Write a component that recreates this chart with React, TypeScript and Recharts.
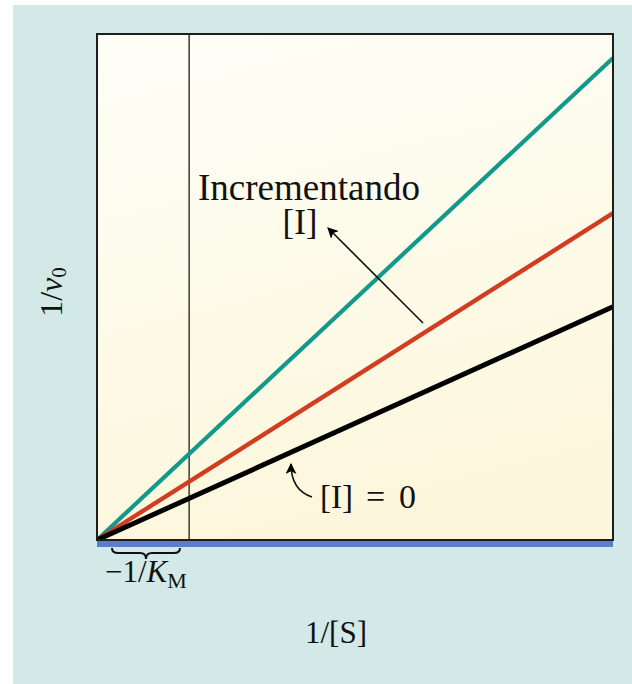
import React from "react";
import { LineChart, Line, XAxis, YAxis, CartesianGrid, ReferenceLine } from "recharts";

// Lineweaver–Burk plot: 1/v0 against 1/[S] for increasing inhibitor concentration
const invSubstrate = [-1, 4.6];
const noInhibitor = [0, 5.53];
const lowInhibitor = [0, 7.75];
const highInhibitor = [0, 11.43];

const rows = invSubstrate.map((x, i) => ({
  x,
  none: noInhibitor[i],
  low: lowInhibitor[i],
  high: highInhibitor[i],
}));

const W = 632;
const H = 684;
const margin = { top: 34, right: 19, left: 97, bottom: 144 };
const plotLeft = margin.left;
const plotTop = margin.top;
const plotRight = W - margin.right;
const plotBottom = H - margin.bottom;

const serif = "'Liberation Serif', 'Times New Roman', serif";

export default function App() {
  return (
    <div style={{ position: "absolute", left: 0, top: 0, width: W, height: H, background: "#ffffff", overflow: "hidden" }}>
      <div style={{ position: "absolute", left: 13, top: 5, right: 0, bottom: 0, background: "#d3e9e7" }} />
      <div style={{ position: "absolute", left: 0, top: 0 }}>
        <LineChart width={W} height={H} data={rows} margin={margin}>
          <defs>
            <linearGradient id="plotFill" x1="0" y1="0" x2="0.25" y2="1">
              <stop offset="0%" stopColor="#fefef8" />
              <stop offset="100%" stopColor="#fcf7dc" />
            </linearGradient>
          </defs>
          <CartesianGrid horizontal={false} vertical={false} fill="url(#plotFill)" />
          <XAxis type="number" dataKey="x" domain={[-1, 4.6]} hide />
          <YAxis type="number" domain={[0, 12]} hide />
          <ReferenceLine x={0} stroke="#3a3a30" strokeWidth={1.5} />
          <Line type="linear" dataKey="high" stroke="#12998a" strokeWidth={4.2} dot={false} isAnimationActive={false} />
          <Line type="linear" dataKey="low" stroke="#d23d22" strokeWidth={4.4} dot={false} isAnimationActive={false} />
          <Line type="linear" dataKey="none" stroke="#000000" strokeWidth={5} dot={false} isAnimationActive={false} />
        </LineChart>
      </div>
      <svg
        width={W}
        height={H}
        style={{ position: "absolute", left: 0, top: 0, pointerEvents: "none" }}
        fontFamily={serif}
      >
        <defs>
          <marker id="head" viewBox="0 0 10 10" refX="9" refY="5" markerWidth="11" markerHeight="11" markerUnits="userSpaceOnUse" orient="auto">
            <path d="M0,0 L10,5 L0,10 L2.5,5 Z" fill="#000" />
          </marker>
        </defs>
        {/* frame */}
        <rect
          x={plotLeft}
          y={plotTop}
          width={plotRight - plotLeft}
          height={plotBottom - plotTop}
          fill="none"
          stroke="#1e1e1e"
          strokeWidth={2}
        />
        {/* blue baseline under the x axis */}
        <rect x={plotLeft} y={541} width={plotRight - plotLeft} height={6} fill="#5b7ec6" />

        {/* brace marking -1/KM */}
        <path
          d="M112,548 Q112,553 118,553 L140,553 Q146,553 146,559 Q146,553 152,553 L174,553 Q180,553 180,548"
          fill="none"
          stroke="#111"
          strokeWidth={2}
        />
        <text x={105} y={582} fontSize={31} fill="#111">
          −1/<tspan fontStyle="italic">K</tspan>
          <tspan fontSize={22} dy={6}>M</tspan>
        </text>

        {/* axis titles */}
        <text x={336} y={643} fontSize={31} textAnchor="middle" fill="#111">
          1/[S]
        </text>
        <text transform="translate(62,292) rotate(-90)" fontSize={32} textAnchor="middle" fill="#111">
          1/<tspan fontStyle="italic">v</tspan>
          <tspan fontSize={21} dy={4}>0</tspan>
        </text>

        {/* inhibitor annotations */}
        <text x={309} y={200} fontSize={37} textAnchor="middle" fill="#111">
          Incrementando
        </text>
        <text x={300} y={234} fontSize={35} textAnchor="middle" fill="#111">
          [I]
        </text>
        <line x1={423} y1={323} x2={328} y2={228} stroke="#111" strokeWidth={1.6} markerEnd="url(#head)" />

        <text x={320} y={508} fontSize={33} fill="#111">
          [I]
        </text>
        <text x={366} y={508} fontSize={34} fill="#111">
          =
        </text>
        <text x={399} y={508} fontSize={34} fill="#111">
          0
        </text>
        <path d="M312,497 Q291,490 291,464" fill="none" stroke="#111" strokeWidth={1.6} markerEnd="url(#head)" />
      </svg>
    </div>
  );
}
